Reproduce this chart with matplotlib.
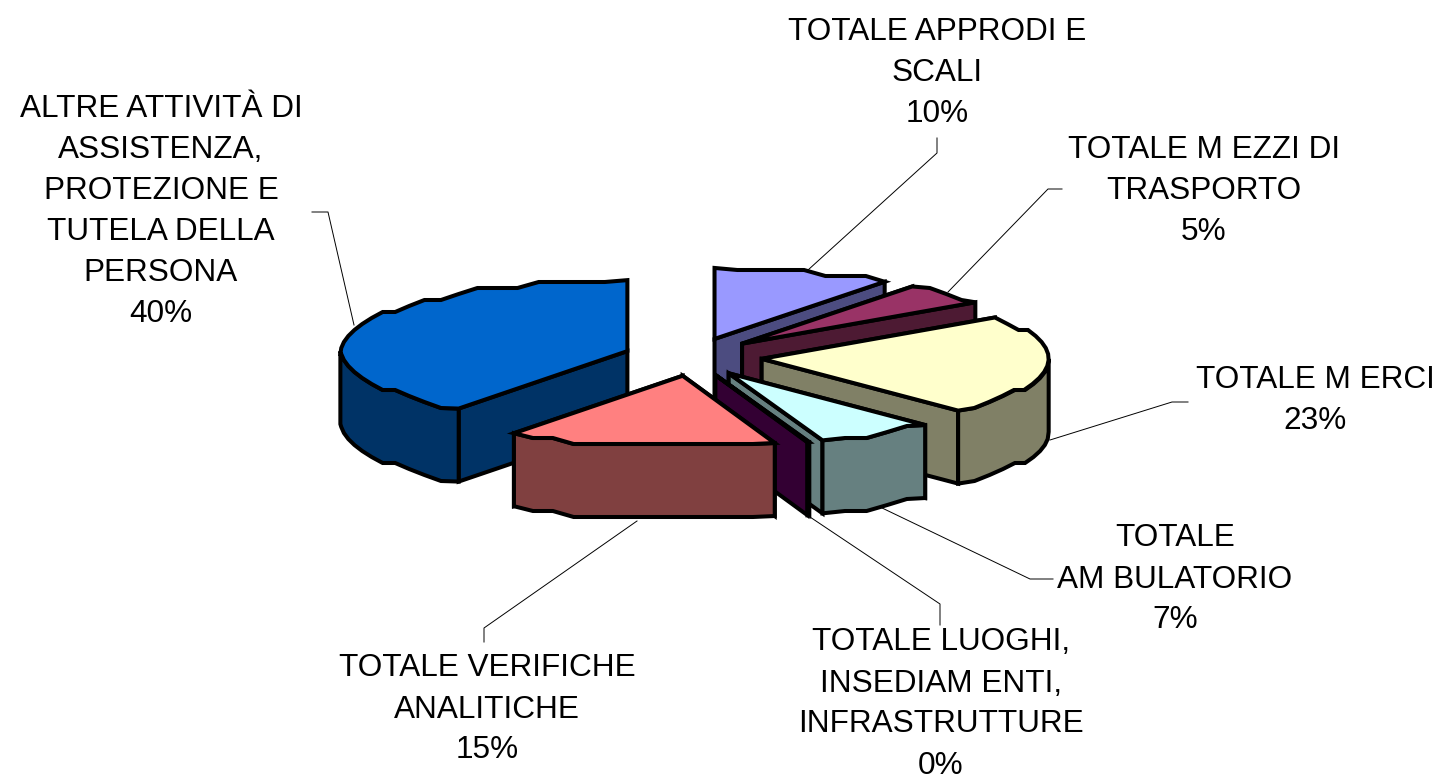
import matplotlib
matplotlib.use("Agg")
import matplotlib.pyplot as plt
import numpy as np
from matplotlib.patches import Polygon

plt.rcParams['font.family'] = ['Liberation Sans', 'DejaVu Sans']

# clockwise from twelve o'clock
names = ["TOTALE APPRODI E\nSCALI", "TOTALE M EZZI DI\nTRASPORTO", "TOTALE M ERCI",
         "TOTALE\nAM BULATORIO", "TOTALE LUOGHI,\nINSEDIAM ENTI,\nINFRASTRUTTURE",
         "TOTALE VERIFICHE\nANALITICHE",
         "ALTRE ATTIVITÀ DI\nASSISTENZA,\nPROTEZIONE E\nTUTELA DELLA\nPERSONA"]
shares = [10.1, 5.0, 22.9, 6.7, 0.1, 15.2, 40.0]
top_colors = ["#9999FF", "#993366", "#FFFFCC", "#CCFFFF", "#660066", "#FF8080", "#0066CC"]
side_colors = ["#4C4C80", "#4D1A33", "#808066", "#668080", "#330033", "#804040", "#003366"]

# label centre x, y of first line
label_pos = [(937, 28), (1204, 146), (1315, 376), (1175, 535), (941, 639), (487, 665), (161, 105)]
leaders = [[(937, 138), (937, 153), (808, 270)],
           [(1062, 189), (1048, 189), (948, 292)],
           [(1188, 402), (1172, 402), (1050, 440)],
           [(1053, 579), (1030, 579), (880, 507)],
           [(940, 625), (940, 604), (810, 517)],
           [(484, 642), (484, 628), (637, 521)],
           [(312, 212), (328, 212), (354, 325)]]
draw_order = [6, 0, 1, 2, 3, 4, 5]   # back to front

CX, CY = 693, 357
RX, RY = 287, 71
EX, EY = 69, 19     # explosion
DEPTH = 73
LW = 2.9
STEP = 6            # the rim is wobbly in the original


def rim(apex, a0, a1):
    n = max(2, int((a1 - a0) / 4.5) + 1)
    ang = np.radians(np.linspace(a0, a1, n))
    xs = apex[0] + RX * np.sin(ang)
    ys = apex[1] - RY * np.cos(ang)
    ys[1:-1] = np.round(ys[1:-1] / STEP) * STEP
    return np.column_stack([xs, ys])


def draw_slice(ax, a0, a1, top, side):
    mid = np.radians((a0 + a1) / 2)
    apex = (CX + EX * np.sin(mid), CY - EY * np.cos(mid))
    edge = rim(apex, a0, a1)
    down = np.array([0, DEPTH])
    style = dict(edgecolor="black", linewidth=LW, joinstyle="miter")

    # cut faces first, the start one is behind for right-hand slices
    faces = [edge[0], edge[-1]]
    if a0 > 180:
        faces = faces[::-1]
    for p in faces:
        quad = [apex, p, p + down, np.array(apex) + down]
        ax.add_patch(Polygon(quad, facecolor=side, **style))

    # outer wall, only the front part of the rim shows
    w0, w1 = max(a0, 90), min(a1, 270)
    if w1 > w0:
        front = rim(apex, w0, w1)
        wall = np.vstack([front, (front + down)[::-1]])
        ax.add_patch(Polygon(wall, facecolor=side, **style))

    ax.add_patch(Polygon(np.vstack([apex, edge]), facecolor=top, **style))


fig = plt.figure(figsize=(14.37, 7.78), dpi=100)
ax = fig.add_axes([0, 0, 1, 1])
ax.set_xlim(0, 1437)
ax.set_ylim(778, 0)
ax.axis("off")

for line in leaders:
    ax.plot(*zip(*line), color="black", lw=0.7, zorder=0)

edges = np.concatenate([[0], np.cumsum(shares)]) * 360 / sum(shares)
for i in draw_order:
    draw_slice(ax, edges[i], edges[i + 1], top_colors[i], side_colors[i])

for name, share, (x, y) in zip(names, shares, label_pos):
    lines = name.split("\n") + ["%d%%" % round(share)]
    for k, txt in enumerate(lines):
        ax.text(x, y + k * 41, txt, ha="center", va="center_baseline", fontsize=22.7, color="black")

fig.savefig("out.png", dpi=100)
